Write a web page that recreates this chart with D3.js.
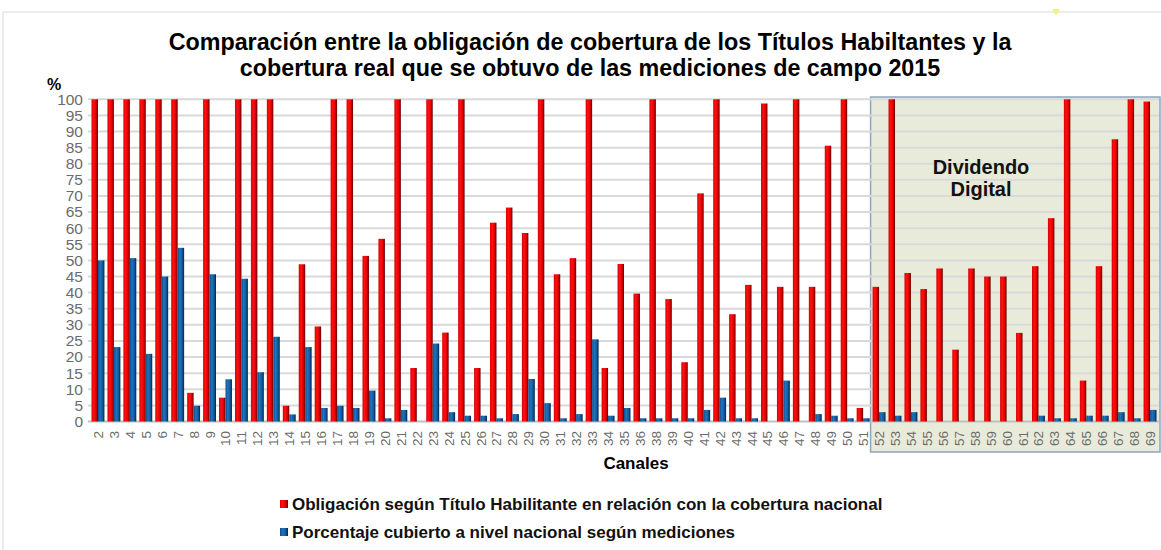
<!DOCTYPE html>
<html><head><meta charset="utf-8">
<script src="https://cdn.jsdelivr.net/npm/d3@7"></script>
<style>body{margin:0;background:#fff}</style>
</head><body>
<svg id="c" width="1161" height="550"></svg>
<script>
const canales = ["2","3","4","5","6","7","8","9","10","11","12","13","14","15","16","17","18","19","20","21","22","23","24","25","26","27","28","29","30","31","32","33","34","35","36","38","39","40","41","42","43","44","45","46","47","48","49","50","51","52","53","54","55","56","57","58","59","60","61","62","63","64","65","66","67","68","69"];
const obligacion = [100,100,100,100,100,100,8.9,100,7.4,100,100,100,4.9,48.8,29.5,100,100,51.4,56.7,100,16.6,100,27.6,100,16.6,61.7,66.4,58.5,100,45.7,50.7,100,16.6,48.9,39.7,100,38.0,18.4,70.8,100,33.3,42.4,98.7,41.8,100,41.8,85.6,100,4.2,41.8,100,46.1,41.1,47.5,22.3,47.5,45.0,45.0,27.5,48.2,63.1,100,12.7,48.2,87.6,100,99.3];
const cubierto = [50.0,23.1,50.7,21.0,45.0,53.9,4.9,45.7,13.1,44.3,15.3,26.3,2.2,23.1,4.2,4.9,4.2,9.6,1.0,3.6,0,24.2,2.9,1.8,1.8,1.0,2.3,13.2,5.7,1.0,2.3,25.5,1.8,4.2,1.0,1.0,1.0,1.0,3.6,7.4,1.0,1.0,0,12.7,0,2.3,1.8,1.0,1.0,2.9,1.8,2.9,0,0,0,0,0,0,0,1.8,1.0,1.0,1.8,1.8,2.9,1.0,3.6];
const yTicks = d3.range(0,101,5);
const seriesNames = ["Obligación según Título Habilitante en relación con la cobertura nacional","Porcentaje cubierto a nivel nacional según mediciones"];
const titleLines = ["Comparación entre la obligación de cobertura de los Títulos Habiltantes y la","cobertura real que se obtuvo de las mediciones de campo 2015"];
const dividendoStart = "52";

const svg = d3.select("#c");
const font = "'Liberation Sans', Arial, sans-serif";
const defs = svg.append("defs");
function grad(id, stops){
  const g = defs.append("linearGradient").attr("id",id).attr("x1","0").attr("x2","1").attr("y1","0").attr("y2","0");
  stops.forEach(s=>g.append("stop").attr("offset",s[0]).attr("stop-color",s[1]));
}
grad("gr",[[0,"#d80000"],[0.35,"#ff1010"],[0.7,"#e00000"],[1,"#5a0000"]]);
grad("gb",[[0,"#0b4f8f"],[0.35,"#1f74bd"],[0.7,"#105a9e"],[1,"#06223f"]]);

// outer frame
svg.append("path").attr("d","M3,550 L3,12 L1161,12").attr("fill","none").attr("stroke","#d9d9d9").attr("stroke-width",1);
svg.append("path").attr("d","M1052,9 L1060,9 L1056,16 Z").attr("fill","#f2f28a");

const x = d3.scaleBand().domain(canales).range([90,1158]).paddingInner(0.19).paddingOuter(0.095);
const x1 = d3.scaleBand().domain([0,1]).range([0,x.bandwidth()]);
const y = d3.scaleLinear().domain([0,100]).range([421.5,99.3]);

// dividendo digital box
const bx = x(dividendoStart) - (x.step()-x.bandwidth())/2 - 0.5;
svg.append("rect").attr("x",bx).attr("y",97).attr("width",1160-bx).attr("height",355)
  .attr("fill","#e9ebda").attr("stroke","#8fa5c2").attr("stroke-width",1.5);

// grid
svg.append("g").selectAll("line").data(yTicks).join("line")
  .attr("x1",88).attr("x2",1159).attr("y1",d=>y(d)).attr("y2",d=>y(d))
  .attr("stroke",d=>d===0?"#bfbfbf":"#d9d9d9").attr("stroke-width",2);

// y axis labels
svg.append("g").selectAll("text").data(yTicks).join("text")
  .attr("x",83).attr("y",d=>y(d)).attr("dy","0.35em").attr("text-anchor","end")
  .attr("font-family",font).attr("font-size",15.5).attr("fill","#6b6b6b").text(d=>d);
svg.append("text").attr("x",47).attr("y",90).attr("font-family",font).attr("font-size",16).attr("font-weight","bold").text("%");

// bars
const g = svg.append("g");
g.selectAll("rect.r").data(canales).join("rect").attr("class","r")
  .attr("x",d=>x(d)+x1(0)).attr("width",x1.bandwidth())
  .attr("y",(d,i)=>y(obligacion[i])).attr("height",(d,i)=>y(0)-y(obligacion[i]))
  .attr("fill","url(#gr)");
g.selectAll("rect.b").data(canales).join("rect").attr("class","b")
  .attr("x",d=>x(d)+x1(1)).attr("width",x1.bandwidth())
  .attr("y",(d,i)=>y(cubierto[i])).attr("height",(d,i)=>y(0)-y(cubierto[i]))
  .attr("fill","url(#gb)");

// x labels
svg.append("g").selectAll("text").data(canales).join("text")
  .attr("transform",d=>`translate(${x(d)+x.bandwidth()/2+5},431) rotate(-90)`)
  .attr("text-anchor","end").attr("font-family",font).attr("font-size",13.5).attr("fill","#6b6b6b").text(d=>d);

svg.append("text").attr("x",636).attr("y",469).attr("text-anchor","middle").attr("font-family",font)
  .attr("font-size",17).attr("font-weight","bold").text("Canales");

// Dividendo digital text
const dd = svg.append("text").attr("text-anchor","middle").attr("font-family",font).attr("font-size",20).attr("font-weight","bold").attr("fill","#111");
dd.append("tspan").attr("x",981).attr("y",174).text("Dividendo");
dd.append("tspan").attr("x",981).attr("y",196).text("Digital");

// title
const t = svg.append("text").attr("text-anchor","middle").attr("font-family",font).attr("font-size",23.3).attr("font-weight","bold").attr("fill","#000");
titleLines.forEach((l,i)=>t.append("tspan").attr("x",590).attr("y",50+i*26).text(l));

// legend
const cols = ["url(#gr)","url(#gb)"];
seriesNames.forEach((n,i)=>{
  svg.append("rect").attr("x",280).attr("y",500+i*28).attr("width",8).attr("height",8).attr("fill",cols[i]);
  svg.append("text").attr("x",292).attr("y",510+i*28).attr("font-family",font).attr("font-size",17).attr("font-weight","bold").attr("fill","#111").text(n);
});
</script>
</body></html>
